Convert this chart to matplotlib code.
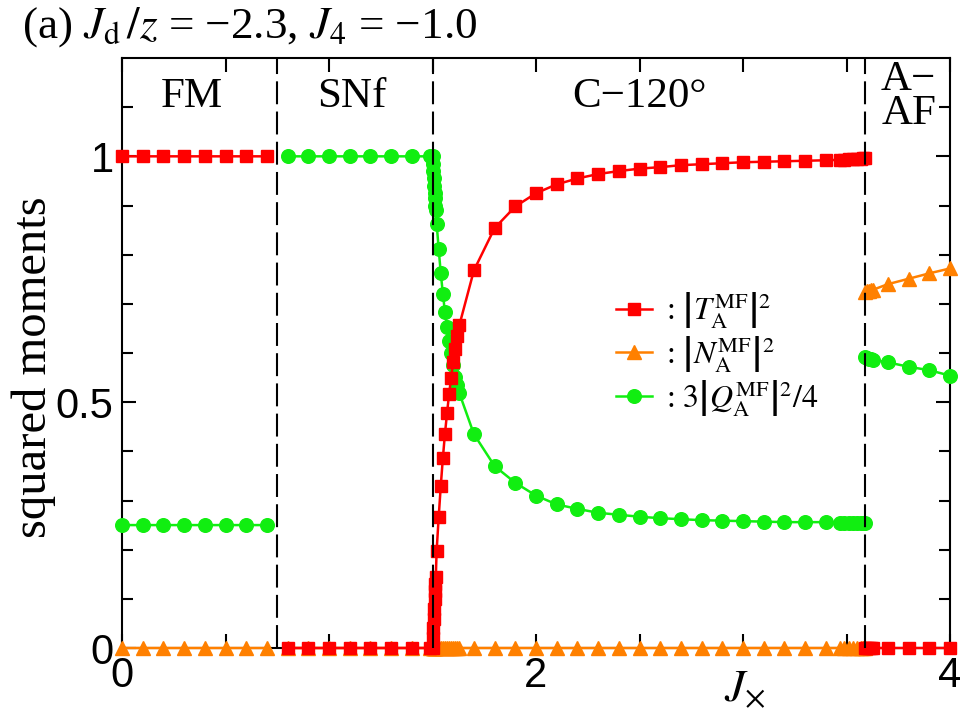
import numpy as np
import matplotlib
matplotlib.use("Agg")
import matplotlib.pyplot as plt
from matplotlib.lines import Line2D

# ---------------- data ----------------
# FM phase
x_fm = [0.0, 0.1, 0.2, 0.3, 0.4, 0.5, 0.6, 0.7]
T_fm = [1.0, 1.0, 1.0, 1.0, 1.0, 1.0, 1.0, 1.0]
N_fm = [0.0, 0.0, 0.0, 0.0, 0.0, 0.0, 0.0, 0.0]
Q_fm = [0.25, 0.25, 0.25, 0.25, 0.25, 0.25, 0.25, 0.25]

# SNf + C-120 phases (continuous)
x_mid = [0.8, 0.9, 1.0, 1.1, 1.2, 1.3, 1.4, 1.49,
         1.500, 1.502, 1.504, 1.506, 1.508, 1.510, 1.512, 1.514, 1.516,
         1.52, 1.53, 1.54, 1.55, 1.56, 1.57, 1.58, 1.59, 1.60, 1.61, 1.62, 1.63,
         1.7, 1.8, 1.9, 2.0, 2.1, 2.2, 2.3, 2.4, 2.5, 2.6, 2.7, 2.8, 2.9,
         3.0, 3.1, 3.2, 3.3, 3.4,
         3.47, 3.49, 3.51, 3.53, 3.55, 3.57, 3.58, 3.59]
T_mid = [0.0, 0.0, 0.0, 0.0, 0.0, 0.0, 0.0, 0.0,
         0.0, 0.02, 0.04, 0.06, 0.08, 0.10, 0.115, 0.13, 0.145,
         0.198, 0.267, 0.330, 0.386, 0.435, 0.477, 0.516, 0.550, 0.582, 0.609, 0.634, 0.657,
         0.768, 0.854, 0.898, 0.925, 0.943, 0.955, 0.964, 0.970, 0.975, 0.978, 0.982, 0.984, 0.986,
         0.988, 0.989, 0.990, 0.991, 0.992,
         0.993, 0.993, 0.994, 0.994, 0.995, 0.995, 0.996, 0.996]
N_mid = [0.0, 0.0, 0.0, 0.0, 0.0, 0.0, 0.0, 0.0,
         0.0, 0.0, 0.0, 0.0, 0.0, 0.0, 0.0, 0.0, 0.0,
         0.0, 0.0, 0.0, 0.0, 0.0, 0.0, 0.0, 0.0, 0.0, 0.0, 0.0, 0.0,
         0.0, 0.0, 0.0, 0.0, 0.0, 0.0, 0.0, 0.0, 0.0, 0.0, 0.0, 0.0, 0.0,
         0.0, 0.0, 0.0, 0.0, 0.0,
         0.0, 0.0, 0.0, 0.0, 0.0, 0.0, 0.0, 0.0]
Q_mid = [1.0, 1.0, 1.0, 1.0, 1.0, 1.0, 1.0, 1.0,
         1.0, 0.985, 0.97, 0.955, 0.94, 0.925, 0.915, 0.90, 0.89,
         0.863, 0.811, 0.762, 0.721, 0.684, 0.653, 0.625, 0.599, 0.575, 0.551, 0.535, 0.518,
         0.435, 0.370, 0.336, 0.310, 0.292, 0.283, 0.275, 0.271, 0.267, 0.264, 0.262, 0.260, 0.259,
         0.258, 0.257, 0.256, 0.256, 0.256,
         0.255, 0.255, 0.255, 0.255, 0.255, 0.255, 0.255, 0.255]

# A-AF phase
x_aaf = [3.59, 3.60, 3.61, 3.62, 3.63, 3.7, 3.8, 3.9, 4.0]
T_aaf = [0.0, 0.0, 0.0, 0.0, 0.0, 0.0, 0.0, 0.0, 0.0]
N_aaf = [0.724, 0.726, 0.727, 0.728, 0.729, 0.740, 0.751, 0.762, 0.772]
Q_aaf = [0.591, 0.589, 0.588, 0.587, 0.586, 0.581, 0.572, 0.565, 0.554]

boundaries = [0.75, 1.5, 3.59]
phase_names = ["FM", "SNf", "C\u2212120\u00b0", "A\u2212\nAF"]
phase_x = [0.335, 1.11, 2.5, 3.8]

x_ticks = [0, 2, 4]
y_ticks = [0, 0.5, 1]
y_tick_labels = ["0", "0.5", "1"]

# ---------------- style ----------------
plt.rcParams["font.family"] = ["Liberation Serif", "DejaVu Serif"]
plt.rcParams["mathtext.fontset"] = "stix"

RED = "#ff0000"
ORANGE = "#ff8000"
GREEN = "#11ee11"

fig = plt.figure(figsize=(9.6, 7.16), dpi=100)
ax = fig.add_axes([122 / 960, 1 - 648 / 716, 828 / 960, 590 / 716])

nan = [np.nan]
X = np.concatenate([x_fm, nan, x_mid, nan, x_aaf])
T = np.concatenate([T_fm, nan, T_mid, nan, T_aaf])
N = np.concatenate([N_fm, nan, N_mid, nan, N_aaf])
Q = np.concatenate([Q_fm, nan, Q_mid, nan, Q_aaf])

lw = 1.8
ms_sq, ms_tri, ms_cir = 8.3, 10.5, 9.8
ax.plot(X, N, color=ORANGE, lw=lw, marker="^", ms=ms_tri, mec=ORANGE, clip_on=False, zorder=3)
ax.plot(X, Q, color=GREEN, lw=lw, marker="o", ms=ms_cir, mec=GREEN, clip_on=False, zorder=4)
ax.plot(X, T, color=RED, lw=lw, marker="s", ms=ms_sq, mec=RED, clip_on=False, zorder=5)

for b in boundaries:
    ax.axvline(b, color="black", lw=1.5, dashes=(11, 3.5), zorder=6)

for name, px in zip(phase_names, phase_x):
    ax.text(px, 1.122, name, ha="center", va="center", fontsize=31,
            linespacing=0.85, zorder=7)

ax.set_xlim(0, 4)
ax.set_ylim(0, 1.2)

ax.set_xticks(x_ticks)
ax.set_xticks([0.5, 1, 1.5, 2.5, 3, 3.5], minor=True)
ax.set_yticks(y_ticks)
ax.set_yticklabels(y_tick_labels)
ax.set_yticks(np.arange(0.1, 1.2, 0.1), minor=True)
ax.tick_params(which="both", direction="in", top=True, right=True, width=1.5)
ax.tick_params(which="major", length=10, labelsize=30, pad=6)
ax.tick_params(which="minor", length=8)
ax.tick_params(axis="x", which="minor", length=10)
for lab in ax.get_xticklabels() + ax.get_yticklabels():
    lab.set_family(["Liberation Sans", "DejaVu Sans"])
for s in ax.spines.values():
    s.set_linewidth(1.5)

# labels
fig.text(34 / 960, 1 - 367 / 716, "squared moments", rotation=90,
         ha="center", va="center", fontsize=35)
fig.text(745 / 960, 1 - 690 / 716, r"$J_{\times}$", ha="center", va="center", fontsize=33)
fig.text(22 / 960, 1 - 27 / 716,
         "(a) $J_{\\mathrm{d}}\\,/z$ = \u22122.3, $J_4$ = \u22121.0",
         ha="left", va="center", fontsize=32.5)

handles = [
    Line2D([], [], color=RED, lw=lw, marker="s", ms=ms_sq, mec=RED),
    Line2D([], [], color=ORANGE, lw=lw, marker="^", ms=ms_tri, mec=ORANGE),
    Line2D([], [], color=GREEN, lw=lw, marker="o", ms=ms_cir, mec=GREEN),
]
labels = [r": $\left|T_{\mathrm{A}}^{\mathrm{MF}}\right|^2$",
          r": $\left|N_{\mathrm{A}}^{\mathrm{MF}}\right|^2$",
          r": $3\left|Q_{\mathrm{A}}^{\mathrm{MF}}\right|^2/4$"]
leg = ax.legend(handles, labels, loc="center left",
                bbox_to_anchor=(594 / 960, 1 - 354 / 716), bbox_transform=fig.transFigure,
                frameon=False, fontsize=23, handlelength=1.1, handletextpad=0.45,
                labelspacing=0.12, numpoints=1, borderpad=0.2)

fig.savefig("out.png", dpi=100)
